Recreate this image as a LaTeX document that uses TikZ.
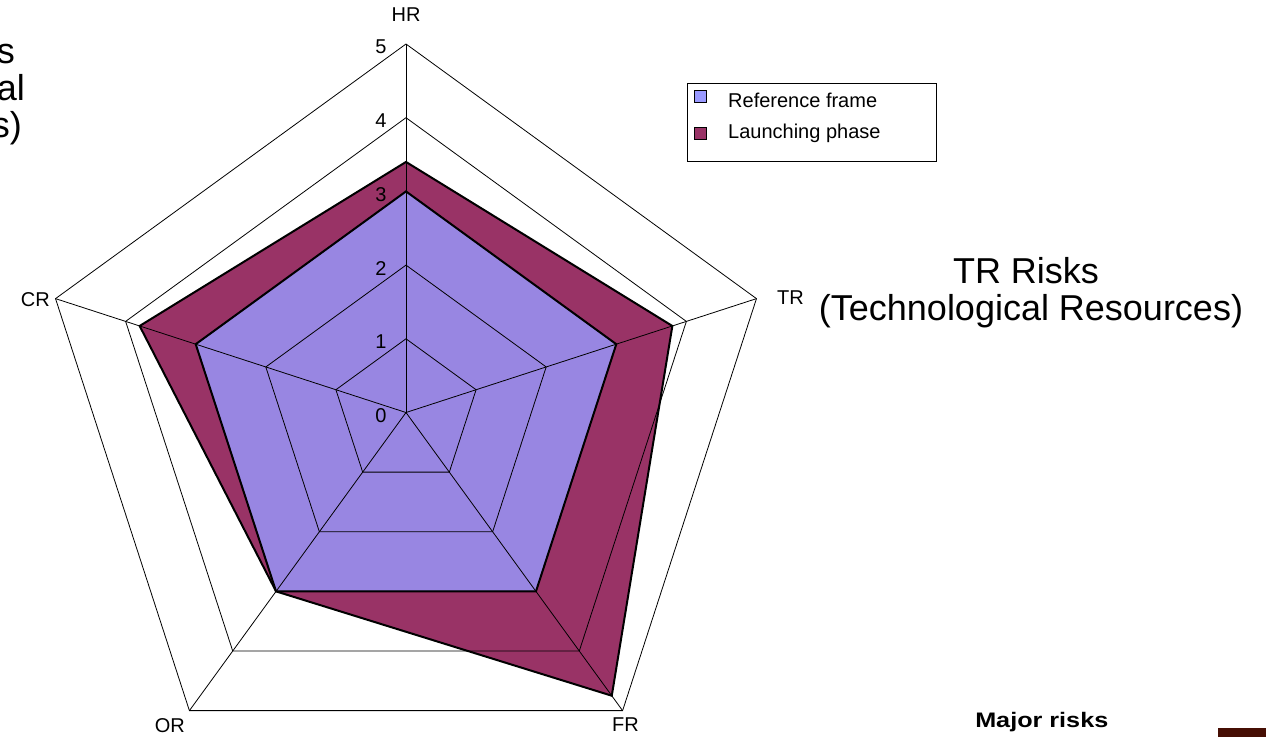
\documentclass[tikz,border=0pt]{standalone}
\usepackage{fontspec}
\setmainfont{Liberation Sans}
\definecolor{refc}{RGB}{152,134,226}
\definecolor{refl}{RGB}{153,153,255}
\definecolor{lau}{RGB}{153,51,102}
\definecolor{brn}{RGB}{70,14,4}
\begin{document}
\begin{tikzpicture}[x=1pt,y=-1pt,
  lbl/.style={font=\fontsize{20}{24}\selectfont, inner sep=0pt},
  big/.style={font=\fontsize{36}{37}\selectfont, inner sep=0pt},
  gridl/.style={line width=0.8pt, black},
  poly/.style={line width=2pt, black, line join=miter},
  swatch/.style={draw=black, line width=1pt}]
\useasboundingbox (0,0) rectangle (1266,737);
\def\u{73.7}
\begin{scope}[shift={(406,412.5)}]
  % series fills
  \fill[lau] ({-90}:{3.4*\u}) -- ({-18}:{3.8*\u}) -- ({54}:{4.75*\u}) -- ({126}:{3*\u}) -- ({198}:{3.8*\u}) -- cycle;
  \fill[refc] ({-90}:{3*\u}) -- ({-18}:{3*\u}) -- ({54}:{3*\u}) -- ({126}:{3*\u}) -- ({198}:{3*\u}) -- cycle;
  % grid
  \foreach \k in {1,...,5}{
    \draw[gridl] ({-90}:{\k*\u}) -- ({-18}:{\k*\u}) -- ({54}:{\k*\u}) -- ({126}:{\k*\u}) -- ({198}:{\k*\u}) -- cycle;
  }
  \foreach \a in {-90,-18,54,126,198}{
    \draw[gridl] (0,0) -- ({\a}:{5*\u});
  }
  % outlines
  \draw[poly] ({-90}:{3.4*\u}) -- ({-18}:{3.8*\u}) -- ({54}:{4.75*\u}) -- ({126}:{3*\u}) -- ({198}:{3.8*\u}) -- cycle;
  \draw[poly] ({-90}:{3*\u}) -- ({-18}:{3*\u}) -- ({54}:{3*\u}) -- ({126}:{3*\u}) -- ({198}:{3*\u}) -- cycle;
  % tick labels
  \foreach \k in {0,...,5}{
    \node[lbl] (t\k) at (-25,{-\k*\u+3}) {\k};
  }
\end{scope}
% axis labels
\node[lbl] (hr) at (406,15) {HR};
\node[lbl, anchor=west] (tr) at (777,298) {TR};
\node[lbl, anchor=north west] (fr) at (612,718) {FR};
\node[lbl, anchor=north east] (or) at (185,718) {OR};
\node[lbl, anchor=east] (cr) at (50,300) {CR};
% legend
\draw[line width=0.8pt] (687,83) rectangle (936,161);
\draw[swatch, fill=refl] (694,90) rectangle (706,102);
\draw[swatch, fill=lau] (694,127) rectangle (706,139);
\node[lbl, anchor=base west] (l1) at (728,107) {Reference frame};
\node[lbl, anchor=base west] (l2) at (728,138) {Launching phase};
% titles
\node[big, anchor=base] (tr1) at (1026,283) {TR Risks};
\node[big, anchor=base] (tr2) at (1031,320) {(Technological Resources)};
\node[big, anchor=base east] (p1) at (15,63) {s};
\node[big, anchor=base east] (p2) at (25,100) {al};
\node[big, anchor=base east] (p3) at (22,137) {s)};
\node[font=\bfseries\fontsize{21}{24}\selectfont, inner sep=0pt, anchor=base west, xscale=1.2] (mr) at (975,727) {Major risks};
\fill[brn] (1218,728) rectangle (1266,737);
\end{tikzpicture}
\end{document}
